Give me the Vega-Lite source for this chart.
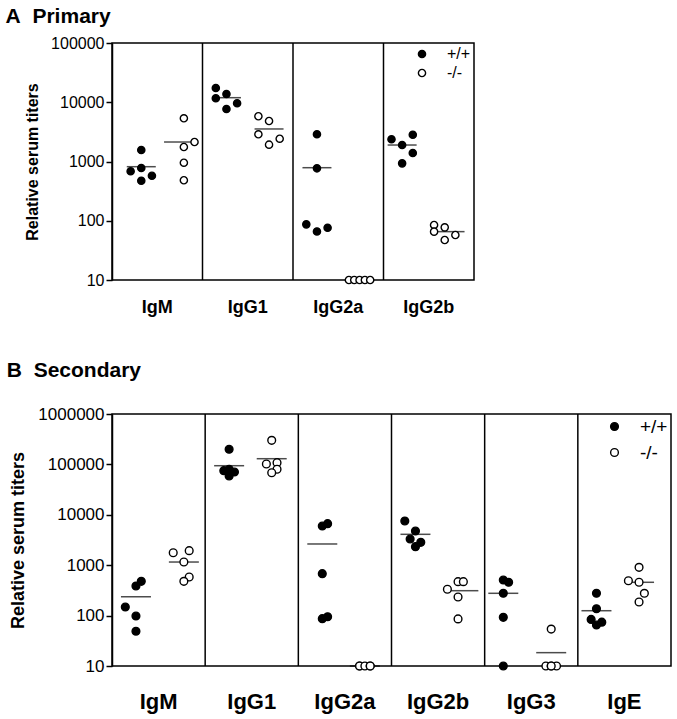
{
  "$schema": "https://vega.github.io/schema/vega-lite/v6.json",
  "background": "white",
  "padding": {"left": 4, "top": 5, "right": 5, "bottom": 5},
  "config": {
    "font": "Liberation Sans",
    "view": {"stroke": "black", "strokeWidth": 1.5},
    "concat": {"spacing": 42},
    "axis": {"labelColor": "black", "titleColor": "black", "domainColor": "black", "tickColor": "black", "grid": false}
  },
  "datasets": {
    "pts": [
      {"panel": "A", "isotype": "IgM", "genotype": "+/+", "lane": -5, "titer": 684},
      {"panel": "A", "isotype": "IgM", "genotype": "+/+", "lane": -3, "titer": 1563},
      {"panel": "A", "isotype": "IgM", "genotype": "+/+", "lane": -3, "titer": 776},
      {"panel": "A", "isotype": "IgM", "genotype": "+/+", "lane": -1, "titer": 575},
      {"panel": "A", "isotype": "IgM", "genotype": "+/+", "lane": -3, "titer": 474},
      {"panel": "A", "isotype": "IgM", "genotype": "-/-", "lane": 5, "titer": 5360},
      {"panel": "A", "isotype": "IgM", "genotype": "-/-", "lane": 7, "titer": 2133},
      {"panel": "A", "isotype": "IgM", "genotype": "-/-", "lane": 5, "titer": 1758},
      {"panel": "A", "isotype": "IgM", "genotype": "-/-", "lane": 5, "titer": 955},
      {"panel": "A", "isotype": "IgM", "genotype": "-/-", "lane": 5, "titer": 482},
      {"panel": "A", "isotype": "IgG1", "genotype": "+/+", "lane": -6, "titer": 17380},
      {"panel": "A", "isotype": "IgG1", "genotype": "+/+", "lane": -4, "titer": 13770},
      {"panel": "A", "isotype": "IgG1", "genotype": "+/+", "lane": -6, "titer": 11670},
      {"panel": "A", "isotype": "IgG1", "genotype": "+/+", "lane": -2, "titer": 9600},
      {"panel": "A", "isotype": "IgG1", "genotype": "+/+", "lane": -4, "titer": 7690},
      {"panel": "A", "isotype": "IgG1", "genotype": "-/-", "lane": 2, "titer": 5800},
      {"panel": "A", "isotype": "IgG1", "genotype": "-/-", "lane": 4, "titer": 4830},
      {"panel": "A", "isotype": "IgG1", "genotype": "-/-", "lane": 2, "titer": 2877},
      {"panel": "A", "isotype": "IgG1", "genotype": "-/-", "lane": 6, "titer": 2427},
      {"panel": "A", "isotype": "IgG1", "genotype": "-/-", "lane": 4, "titer": 1923},
      {"panel": "A", "isotype": "IgG2a", "genotype": "+/+", "lane": -4, "titer": 2877},
      {"panel": "A", "isotype": "IgG2a", "genotype": "+/+", "lane": -4, "titer": 767},
      {"panel": "A", "isotype": "IgG2a", "genotype": "+/+", "lane": -6, "titer": 87},
      {"panel": "A", "isotype": "IgG2a", "genotype": "+/+", "lane": -4, "titer": 66},
      {"panel": "A", "isotype": "IgG2a", "genotype": "+/+", "lane": -2, "titer": 76},
      {"panel": "A", "isotype": "IgG2a", "genotype": "-/-", "lane": 2, "titer": 10},
      {"panel": "A", "isotype": "IgG2a", "genotype": "-/-", "lane": 3, "titer": 10},
      {"panel": "A", "isotype": "IgG2a", "genotype": "-/-", "lane": 4, "titer": 10},
      {"panel": "A", "isotype": "IgG2a", "genotype": "-/-", "lane": 5, "titer": 10},
      {"panel": "A", "isotype": "IgG2a", "genotype": "-/-", "lane": 6, "titer": 10},
      {"panel": "A", "isotype": "IgG2b", "genotype": "+/+", "lane": -7, "titer": 2371},
      {"panel": "A", "isotype": "IgG2b", "genotype": "+/+", "lane": -5, "titer": 1897},
      {"panel": "A", "isotype": "IgG2b", "genotype": "+/+", "lane": -3, "titer": 2831},
      {"panel": "A", "isotype": "IgG2b", "genotype": "+/+", "lane": -3, "titer": 1390},
      {"panel": "A", "isotype": "IgG2b", "genotype": "+/+", "lane": -5, "titer": 931},
      {"panel": "A", "isotype": "IgG2b", "genotype": "-/-", "lane": 1, "titer": 85},
      {"panel": "A", "isotype": "IgG2b", "genotype": "-/-", "lane": 1, "titer": 65.5},
      {"panel": "A", "isotype": "IgG2b", "genotype": "-/-", "lane": 3, "titer": 77.4},
      {"panel": "A", "isotype": "IgG2b", "genotype": "-/-", "lane": 3, "titer": 47.3},
      {"panel": "A", "isotype": "IgG2b", "genotype": "-/-", "lane": 5, "titer": 57.5},

      {"panel": "B", "isotype": "IgM", "genotype": "+/+", "lane": -3, "titer": 479},
      {"panel": "B", "isotype": "IgM", "genotype": "+/+", "lane": -4, "titer": 387},
      {"panel": "B", "isotype": "IgM", "genotype": "+/+", "lane": -6, "titer": 148},
      {"panel": "B", "isotype": "IgM", "genotype": "+/+", "lane": -4, "titer": 98},
      {"panel": "B", "isotype": "IgM", "genotype": "+/+", "lane": -4, "titer": 49},
      {"panel": "B", "isotype": "IgM", "genotype": "-/-", "lane": 3, "titer": 1770},
      {"panel": "B", "isotype": "IgM", "genotype": "-/-", "lane": 6, "titer": 1940},
      {"panel": "B", "isotype": "IgM", "genotype": "-/-", "lane": 5, "titer": 1156},
      {"panel": "B", "isotype": "IgM", "genotype": "-/-", "lane": 6, "titer": 583},
      {"panel": "B", "isotype": "IgM", "genotype": "-/-", "lane": 5, "titer": 479},
      {"panel": "B", "isotype": "IgG1", "genotype": "+/+", "lane": -4, "titer": 199500},
      {"panel": "B", "isotype": "IgG1", "genotype": "+/+", "lane": -5, "titer": 75000},
      {"panel": "B", "isotype": "IgG1", "genotype": "+/+", "lane": -3, "titer": 70600},
      {"panel": "B", "isotype": "IgG1", "genotype": "+/+", "lane": -4, "titer": 58900},
      {"panel": "B", "isotype": "IgG1", "genotype": "+/+", "lane": -4, "titer": 80000},
      {"panel": "B", "isotype": "IgG1", "genotype": "-/-", "lane": 4, "titer": 300600},
      {"panel": "B", "isotype": "IgG1", "genotype": "-/-", "lane": 3, "titer": 101900},
      {"panel": "B", "isotype": "IgG1", "genotype": "-/-", "lane": 5, "titer": 108100},
      {"panel": "B", "isotype": "IgG1", "genotype": "-/-", "lane": 5, "titer": 80000},
      {"panel": "B", "isotype": "IgG1", "genotype": "-/-", "lane": 4, "titer": 68400},
      {"panel": "B", "isotype": "IgG2a", "genotype": "+/+", "lane": -4, "titer": 5990},
      {"panel": "B", "isotype": "IgG2a", "genotype": "+/+", "lane": -3, "titer": 6670},
      {"panel": "B", "isotype": "IgG2a", "genotype": "+/+", "lane": -4, "titer": 679},
      {"panel": "B", "isotype": "IgG2a", "genotype": "+/+", "lane": -4, "titer": 87},
      {"panel": "B", "isotype": "IgG2a", "genotype": "+/+", "lane": -3, "titer": 95},
      {"panel": "B", "isotype": "IgG2a", "genotype": "-/-", "lane": 3, "titer": 10},
      {"panel": "B", "isotype": "IgG2a", "genotype": "-/-", "lane": 3, "titer": 10},
      {"panel": "B", "isotype": "IgG2a", "genotype": "-/-", "lane": 4, "titer": 10},
      {"panel": "B", "isotype": "IgG2a", "genotype": "-/-", "lane": 5, "titer": 10},
      {"panel": "B", "isotype": "IgG2a", "genotype": "-/-", "lane": 5, "titer": 10},
      {"panel": "B", "isotype": "IgG2b", "genotype": "+/+", "lane": -6, "titer": 7540},
      {"panel": "B", "isotype": "IgG2b", "genotype": "+/+", "lane": -4, "titer": 4770},
      {"panel": "B", "isotype": "IgG2b", "genotype": "+/+", "lane": -5, "titer": 3310},
      {"panel": "B", "isotype": "IgG2b", "genotype": "+/+", "lane": -3, "titer": 2845},
      {"panel": "B", "isotype": "IgG2b", "genotype": "+/+", "lane": -4, "titer": 2330},
      {"panel": "B", "isotype": "IgG2b", "genotype": "-/-", "lane": 2, "titer": 333},
      {"panel": "B", "isotype": "IgG2b", "genotype": "-/-", "lane": 4, "titer": 471},
      {"panel": "B", "isotype": "IgG2b", "genotype": "-/-", "lane": 5, "titer": 471},
      {"panel": "B", "isotype": "IgG2b", "genotype": "-/-", "lane": 4, "titer": 234},
      {"panel": "B", "isotype": "IgG2b", "genotype": "-/-", "lane": 4, "titer": 86},
      {"panel": "B", "isotype": "IgG3", "genotype": "+/+", "lane": -5, "titer": 508},
      {"panel": "B", "isotype": "IgG3", "genotype": "+/+", "lane": -4, "titer": 458},
      {"panel": "B", "isotype": "IgG3", "genotype": "+/+", "lane": -5, "titer": 277},
      {"panel": "B", "isotype": "IgG3", "genotype": "+/+", "lane": -5, "titer": 92.5},
      {"panel": "B", "isotype": "IgG3", "genotype": "+/+", "lane": -5, "titer": 10},
      {"panel": "B", "isotype": "IgG3", "genotype": "-/-", "lane": 4, "titer": 54},
      {"panel": "B", "isotype": "IgG3", "genotype": "-/-", "lane": 3, "titer": 10},
      {"panel": "B", "isotype": "IgG3", "genotype": "-/-", "lane": 4, "titer": 10},
      {"panel": "B", "isotype": "IgG3", "genotype": "-/-", "lane": 5, "titer": 10},
      {"panel": "B", "isotype": "IgG3", "genotype": "-/-", "lane": 4, "titer": 10},
      {"panel": "B", "isotype": "IgE", "genotype": "+/+", "lane": -5, "titer": 277},
      {"panel": "B", "isotype": "IgE", "genotype": "+/+", "lane": -5, "titer": 137},
      {"panel": "B", "isotype": "IgE", "genotype": "+/+", "lane": -6, "titer": 84},
      {"panel": "B", "isotype": "IgE", "genotype": "+/+", "lane": -4, "titer": 74},
      {"panel": "B", "isotype": "IgE", "genotype": "+/+", "lane": -5, "titer": 65},
      {"panel": "B", "isotype": "IgE", "genotype": "-/-", "lane": 1, "titer": 492},
      {"panel": "B", "isotype": "IgE", "genotype": "-/-", "lane": 3, "titer": 908},
      {"panel": "B", "isotype": "IgE", "genotype": "-/-", "lane": 3, "titer": 458},
      {"panel": "B", "isotype": "IgE", "genotype": "-/-", "lane": 4, "titer": 277},
      {"panel": "B", "isotype": "IgE", "genotype": "-/-", "lane": 3, "titer": 186}
    ],
    "means": [
      {"panel": "A", "isotype": "IgM", "genotype": "+/+", "lane": -3, "mean": 817},
      {"panel": "A", "isotype": "IgM", "genotype": "-/-", "lane": 4, "mean": 2133},
      {"panel": "A", "isotype": "IgG1", "genotype": "+/+", "lane": -4, "mean": 11940},
      {"panel": "A", "isotype": "IgG1", "genotype": "-/-", "lane": 4, "mean": 3540},
      {"panel": "A", "isotype": "IgG2a", "genotype": "+/+", "lane": -4, "mean": 786},
      {"panel": "A", "isotype": "IgG2a", "genotype": "-/-", "lane": 4, "mean": 10},
      {"panel": "A", "isotype": "IgG2b", "genotype": "+/+", "lane": -5, "mean": 1897},
      {"panel": "A", "isotype": "IgG2b", "genotype": "-/-", "lane": 4, "mean": 65.5},
      {"panel": "B", "isotype": "IgM", "genotype": "+/+", "lane": -4, "mean": 237},
      {"panel": "B", "isotype": "IgM", "genotype": "-/-", "lane": 5, "mean": 1156},
      {"panel": "B", "isotype": "IgG1", "genotype": "+/+", "lane": -4, "mean": 94200},
      {"panel": "B", "isotype": "IgG1", "genotype": "-/-", "lane": 4, "mean": 129700},
      {"panel": "B", "isotype": "IgG2a", "genotype": "+/+", "lane": -4, "mean": 2636},
      {"panel": "B", "isotype": "IgG2a", "genotype": "-/-", "lane": 4, "mean": 10},
      {"panel": "B", "isotype": "IgG2b", "genotype": "+/+", "lane": -4, "mean": 4100},
      {"panel": "B", "isotype": "IgG2b", "genotype": "-/-", "lane": 5, "mean": 312},
      {"panel": "B", "isotype": "IgG3", "genotype": "+/+", "lane": -5, "mean": 277},
      {"panel": "B", "isotype": "IgG3", "genotype": "-/-", "lane": 4, "mean": 18.4},
      {"panel": "B", "isotype": "IgE", "genotype": "+/+", "lane": -5, "mean": 125},
      {"panel": "B", "isotype": "IgE", "genotype": "-/-", "lane": 3, "mean": 458}
    ]
  },
  "vconcat": [
    {
      "width": 362,
      "height": 237,
      "title": {"text": "A\u00a0\u00a0Primary", "anchor": "start", "frame": "bounds", "fontSize": 21, "fontWeight": "bold", "color": "black", "dx": -19, "offset": 8},
      "layer": [
        {
          "data": {"values": [{"isotype": "IgG1"}, {"isotype": "IgG2a"}, {"isotype": "IgG2b"}]},
          "mark": {"type": "rule", "color": "black", "strokeWidth": 1.5},
          "encoding": {
            "x": {"field": "isotype", "type": "nominal", "bandPosition": 0, "scale": {"domain": ["IgM", "IgG1", "IgG2a", "IgG2b"], "paddingInner": 0, "paddingOuter": 0}, "axis": {"title": null, "ticks": false, "domain": false, "labelAngle": 0, "labelFontSize": 18, "labelFontWeight": "bold", "labelPadding": 18}}
          }
        },
        {
          "data": {"name": "means"},
          "transform": [{"filter": "datum.panel === 'A'"}],
          "mark": {"type": "tick", "color": "black", "thickness": 1.5, "size": 29},
          "encoding": {
            "x": {"field": "isotype", "type": "nominal", "scale": {"domain": ["IgM", "IgG1", "IgG2a", "IgG2b"]}},
            "xOffset": {"field": "lane", "type": "ordinal", "scale": {"domain": [-8,-7,-6,-5,-4,-3,-2,-1,0,1,2,3,4,5,6,7,8], "paddingInner": 0, "paddingOuter": 0}},
            "y": {"field": "mean", "type": "quantitative"}
          }
        },
        {
          "data": {"name": "pts"},
          "transform": [{"filter": "datum.panel === 'A'"}],
          "mark": {"type": "point", "shape": "circle", "filled": true, "stroke": "black", "strokeWidth": 1.4, "opacity": 1, "size": 52},
          "encoding": {
            "x": {"field": "isotype", "type": "nominal", "scale": {"domain": ["IgM", "IgG1", "IgG2a", "IgG2b"]}},
            "xOffset": {"field": "lane", "type": "ordinal", "scale": {"domain": [-8,-7,-6,-5,-4,-3,-2,-1,0,1,2,3,4,5,6,7,8], "paddingInner": 0, "paddingOuter": 0}},
            "y": {"field": "titer", "type": "quantitative", "scale": {"type": "log", "domain": [10, 100000], "nice": false}, "axis": {"title": "Relative serum titers", "titleFontSize": 16, "titleFontWeight": "bold", "titlePadding": 10, "values": [10, 100, 1000, 10000, 100000], "format": "d", "labelFontSize": 16, "tickSize": 6, "tickWidth": 1.5, "domainWidth": 1.5}},
            "fill": {"field": "genotype", "type": "nominal", "scale": {"domain": ["+/+", "-/-"], "range": ["black", "white"]}, "legend": {"title": null, "orient": "top-right", "offset": 3, "padding": 0, "labelFontSize": 16, "labelOffset": 17, "symbolSize": 52, "symbolStrokeColor": "black", "symbolStrokeWidth": 1.4, "rowPadding": 3, "symbolType": "circle"}}
          }
        }
      ]
    },
    {
      "width": 559,
      "height": 252,
      "title": {"text": "B\u00a0\u00a0Secondary", "anchor": "start", "frame": "bounds", "fontSize": 21, "fontWeight": "bold", "color": "black", "dx": -3, "offset": 24},
      "layer": [
        {
          "data": {"values": [{"isotype": "IgG1"}, {"isotype": "IgG2a"}, {"isotype": "IgG2b"}, {"isotype": "IgG3"}, {"isotype": "IgE"}]},
          "mark": {"type": "rule", "color": "black", "strokeWidth": 1.5},
          "encoding": {
            "x": {"field": "isotype", "type": "nominal", "bandPosition": 0, "scale": {"domain": ["IgM", "IgG1", "IgG2a", "IgG2b", "IgG3", "IgE"], "paddingInner": 0, "paddingOuter": 0}, "axis": {"title": null, "ticks": false, "domain": false, "labelAngle": 0, "labelFontSize": 22, "labelFontWeight": "bold", "labelPadding": 25}}
          }
        },
        {
          "data": {"name": "means"},
          "transform": [{"filter": "datum.panel === 'B'"}],
          "mark": {"type": "tick", "color": "black", "thickness": 1.5, "size": 30},
          "encoding": {
            "x": {"field": "isotype", "type": "nominal", "scale": {"domain": ["IgM", "IgG1", "IgG2a", "IgG2b", "IgG3", "IgE"]}},
            "xOffset": {"field": "lane", "type": "ordinal", "scale": {"domain": [-8,-7,-6,-5,-4,-3,-2,-1,0,1,2,3,4,5,6,7,8], "paddingInner": 0, "paddingOuter": 0.2}},
            "y": {"field": "mean", "type": "quantitative"}
          }
        },
        {
          "data": {"name": "pts"},
          "transform": [{"filter": "datum.panel === 'B'"}],
          "mark": {"type": "point", "shape": "circle", "filled": true, "stroke": "black", "strokeWidth": 1.4, "opacity": 1, "size": 60},
          "encoding": {
            "x": {"field": "isotype", "type": "nominal", "scale": {"domain": ["IgM", "IgG1", "IgG2a", "IgG2b", "IgG3", "IgE"]}},
            "xOffset": {"field": "lane", "type": "ordinal", "scale": {"domain": [-8,-7,-6,-5,-4,-3,-2,-1,0,1,2,3,4,5,6,7,8], "paddingInner": 0, "paddingOuter": 0.2}},
            "y": {"field": "titer", "type": "quantitative", "scale": {"type": "log", "domain": [10, 1000000], "nice": false}, "axis": {"title": "Relative serum titers", "titleFontSize": 18, "titleFontWeight": "bold", "titlePadding": 10, "values": [10, 100, 1000, 10000, 100000, 1000000], "format": "d", "labelFontSize": 17, "tickSize": 6, "tickWidth": 1.5, "domainWidth": 1.5}},
            "fill": {"field": "genotype", "type": "nominal", "scale": {"domain": ["+/+", "-/-"], "range": ["black", "white"]}, "legend": {"title": null, "orient": "top-right", "offset": 3, "padding": 0, "labelFontSize": 19, "labelOffset": 16, "symbolSize": 60, "symbolStrokeColor": "black", "symbolStrokeWidth": 1.4, "rowPadding": 6, "symbolType": "circle"}}
          }
        }
      ]
    }
  ],
  "resolve": {"scale": {"fill": "independent"}, "legend": {"fill": "independent"}}
}
